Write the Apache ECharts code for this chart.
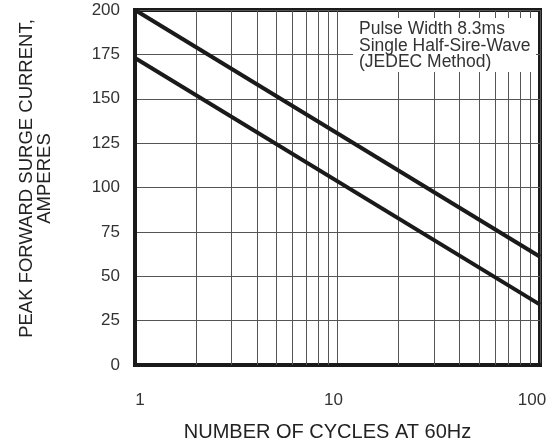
<!DOCTYPE html>
<html>
<head>
<meta charset="utf-8">
<script src="https://cdn.jsdelivr.net/npm/echarts@6/dist/echarts.min.js"></script>
<style>
  html, body { margin: 0; padding: 0; background: #fff; }
  #container { width: 552px; height: 447px; }
</style>
</head>
<body>
<div id="container"></div>
<script>
// cycles (log scale) and surge current in amperes
var cycles = [1, 100];
var upperCurve = [200, 61];
var lowerCurve = [173, 34];
// vertical grid lines between decades
var minorCycles = [2, 3, 4, 5, 6, 7, 8, 9, 20, 30, 40, 50, 60, 70, 80, 90];
var xTickLabels = [1, 10, 100];
var noteLines = ['Pulse Width 8.3ms', 'Single Half-Sire-Wave', '(JEDEC Method)'];

window.onload = function () {
    var dom = document.getElementById('container');
    var myChart = echarts.init(dom, null, { renderer: 'canvas' });
    var font = 'Liberation Sans, Arial, sans-serif';
    var gridColor = '#555';

    function pairs(ys) {
        return cycles.map(function (c, i) { return [c, ys[i]]; });
    }

    var option = {
        animation: false,
        backgroundColor: '#fff',
        textStyle: { fontFamily: font },
        grid: {
            left: 135, right: 12, top: 10, bottom: 72,
            show: true,
            borderColor: '#1a1a1a',
            borderWidth: 4,
            backgroundColor: 'transparent'
        },
        xAxis: {
            type: 'log',
            logBase: 10,
            min: 1,
            max: 100,
            name: 'NUMBER OF CYCLES AT 60Hz',
            nameLocation: 'middle',
            nameGap: 57,
            nameTextStyle: { fontSize: 20, color: '#222', fontFamily: font, padding: [0, 20, 0, 0] },
            axisLine: { show: true, lineStyle: { color: '#1a1a1a', width: 4 } },
            axisTick: { show: false },
            axisLabel: {
                fontSize: 17, color: '#333', margin: 27, fontFamily: font,
                formatter: function (v) {
                    var n = Math.round(v);
                    if (xTickLabels.indexOf(n) < 0) return '';
                    return '{t' + n + '|' + n + '}';
                },
                rich: {
                    t1: { fontSize: 17, color: '#333', padding: [0, 0, 0, 10] },
                    t10: { fontSize: 17, color: '#333', padding: [0, 8, 0, 0] },
                    t100: { fontSize: 17, color: '#333', padding: [0, 16, 0, 0] }
                }
            },
            splitLine: { show: true, lineStyle: { color: gridColor, width: 1 } }
        },
        yAxis: {
            type: 'value',
            min: 0,
            max: 200,
            interval: 25,
            name: 'PEAK FORWARD SURGE CURRENT,\nAMPERES',
            nameLocation: 'middle',
            nameRotate: 90,
            nameGap: 81,
            nameTextStyle: {
                fontSize: 18.5, color: '#222', lineHeight: 18, fontFamily: font,
                padding: [0, 0, 0, 18]
            },
            axisLine: { show: true, lineStyle: { color: '#1a1a1a', width: 4 } },
            axisTick: { show: false },
            axisLabel: { fontSize: 17, color: '#333', margin: 15, fontFamily: font },
            splitLine: { show: true, lineStyle: { color: gridColor, width: 1 } }
        },
        graphic: [{
            type: 'group',
            left: 353,
            top: 18,
            z: 100,
            children: [{
                type: 'rect',
                z: 100,
                shape: { x: 0, y: 0, width: 183, height: 54 },
                style: { fill: '#fff' }
            }, {
                type: 'text',
                z: 101,
                x: 6,
                y: 3,
                style: {
                    text: noteLines.join('\n'),
                    font: '17.5px ' + font,
                    fill: '#333',
                    lineHeight: 16.5
                }
            }]
        }],
        series: [{
            name: 'minor',
            type: 'line',
            data: [],
            z: 1,
            markLine: {
                silent: true,
                symbol: 'none',
                label: { show: false },
                lineStyle: { color: gridColor, width: 1, type: 'solid' },
                data: minorCycles.map(function (c) { return { xAxis: c }; })
            }
        }, {
            name: 'upper',
            type: 'line',
            z: 5,
            data: pairs(upperCurve),
            symbol: 'none',
            lineStyle: { color: '#1a1a1a', width: 4 }
        }, {
            name: 'lower',
            type: 'line',
            z: 5,
            data: pairs(lowerCurve),
            symbol: 'none',
            lineStyle: { color: '#1a1a1a', width: 4 }
        }]
    };
    myChart.setOption(option, true);
};
</script>
</body>
</html>
